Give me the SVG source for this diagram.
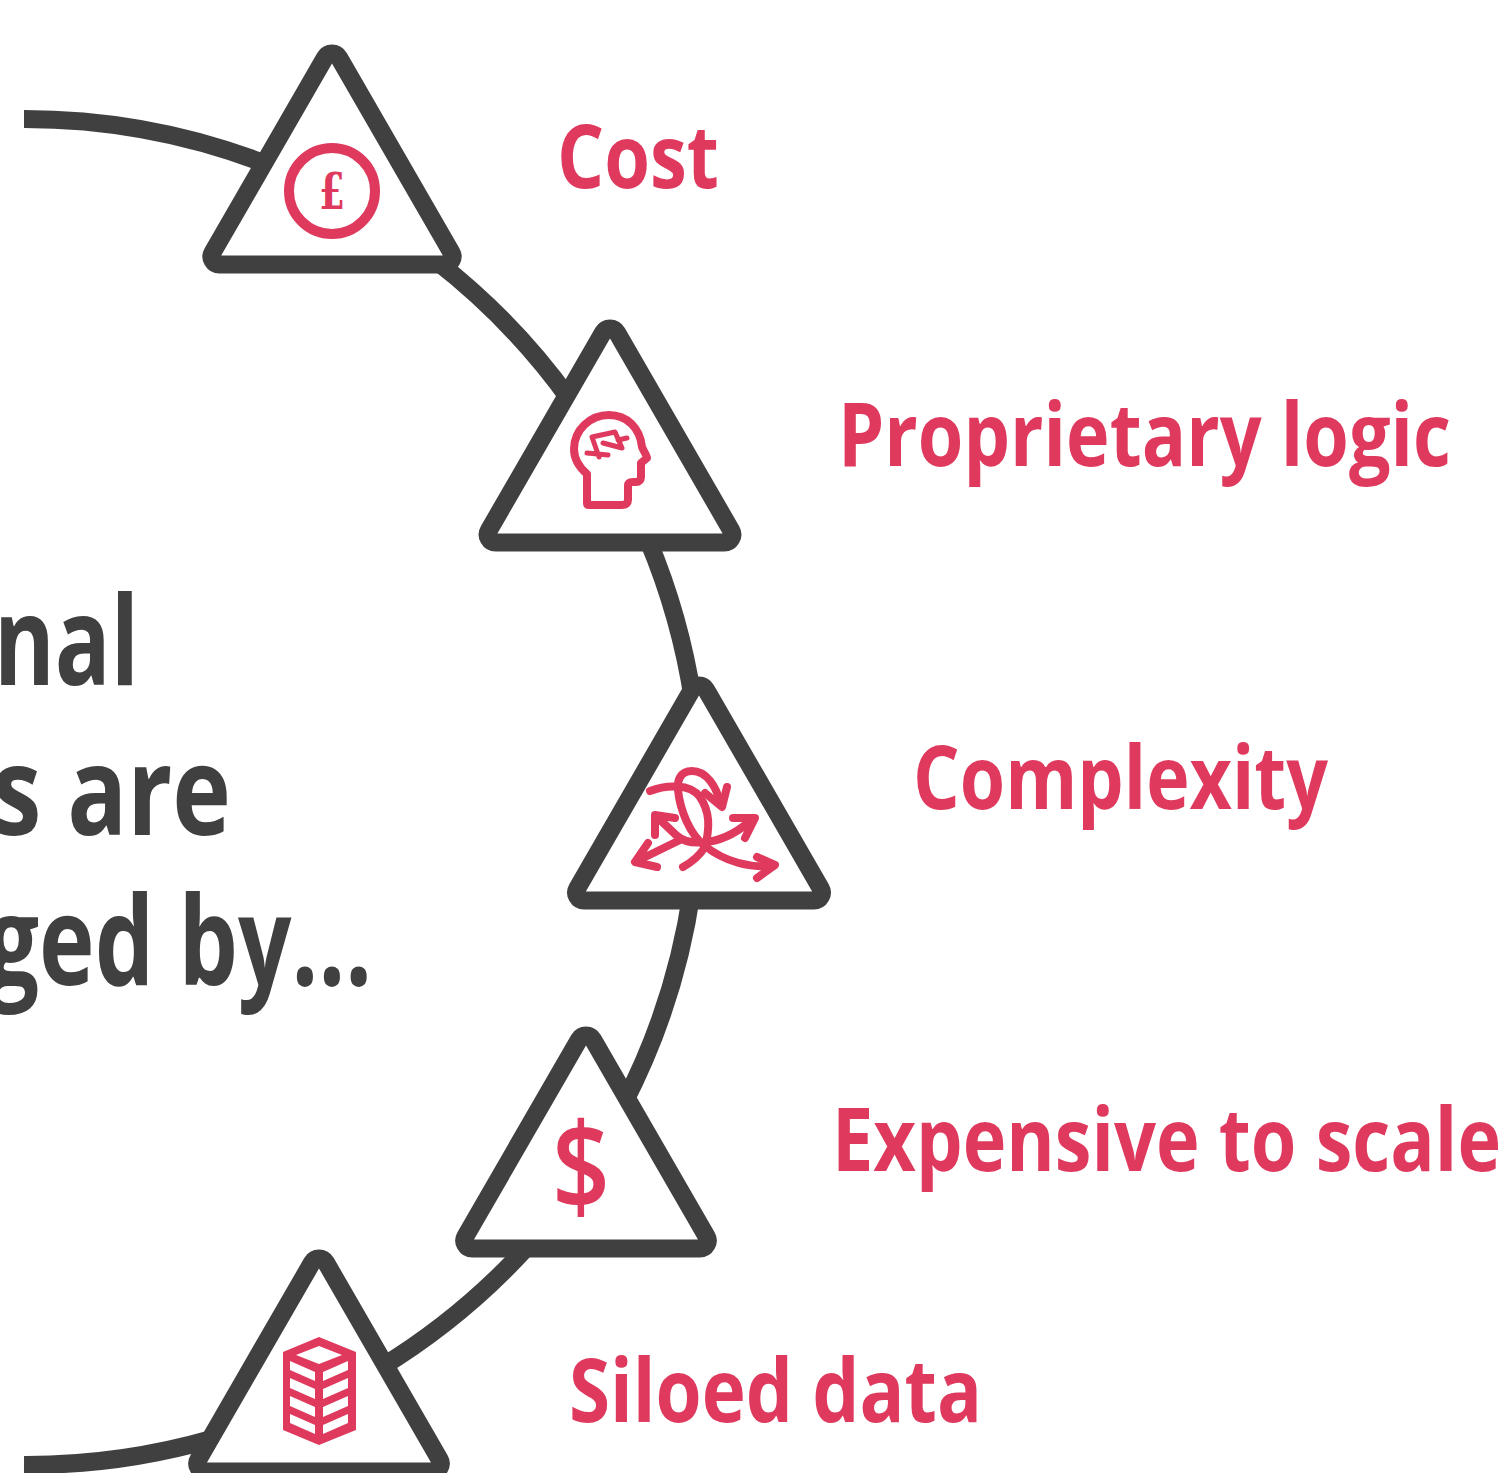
<svg xmlns="http://www.w3.org/2000/svg" width="1500" height="1473" viewBox="0 0 1500 1473">
<style>
.tri{fill:#fff;stroke:#404040;stroke-width:18;stroke-linejoin:round}
.arc{fill:none;stroke:#404040;stroke-width:18}
.lab{font-family:"Open Sans","Noto Sans",sans-serif;font-weight:700;font-size:88px;fill:#df3a5e}
.big{font-family:"Open Sans","Noto Sans",sans-serif;font-weight:700;font-size:124px;fill:#404040}
.ic{fill:none;stroke:#df3a5e;stroke-width:8;stroke-linecap:round;stroke-linejoin:round}
</style>
<rect width="1500" height="1473" fill="#fff"/>
<g id="connectors">
<path class="arc" d="M24 119A673 673 0 0 1 270 165.500"/>
<path class="arc" d="M435 260A673 673 0 0 1 570 400"/>
<path class="arc" d="M648 540A673 673 0 0 1 693 700"/>
<path class="arc" d="M692 890A673 673 0 0 1 623 1105"/>
<path class="arc" d="M527 1247A673 673 0 0 1 380 1368"/>
<path class="arc" d="M212 1439A673 673 0 0 1 24 1465"/>
</g>
<g id="heading">
<text class="big" x="-6" y="685" textLength="145" lengthAdjust="spacingAndGlyphs">nal</text>
<text class="big" x="-8" y="835" textLength="239" lengthAdjust="spacingAndGlyphs">s are</text>
<text class="big" x="-14" y="985" textLength="386" lengthAdjust="spacingAndGlyphs">ged by...</text>
</g>
<g id="node-cost">
<path class="tri" d="M325.050 57.540A8 8 0 0 1 338.950 57.540L451.450 252.460A8 8 0 0 1 444.500 264.500H219.500A8 8 0 0 1 212.550 252.460Z"/>
<circle cx="332" cy="191" r="43" fill="none" stroke="#df3a5e" stroke-width="10"/>
<text x="319" y="209" textLength="26" lengthAdjust="spacingAndGlyphs" font-family="'DejaVu Serif',serif" font-weight="700" font-size="50" fill="#df3a5e">£</text>
<text class="lab" x="557" y="187.500" textLength="162" lengthAdjust="spacingAndGlyphs">Cost</text>
</g>
<g id="node-proprietary-logic">
<path class="tri" d="M603.050 332.540A8 8 0 0 1 616.950 332.540L731.250 530.460A8 8 0 0 1 724.300 542.500H495.700A8 8 0 0 1 488.750 530.460Z"/>
<path class="ic" d="M589 505H622C626 505 628 503 628 500V486C628 483 630 482 633 482H636C639 482 641 480 641 477V463L647 458C647 456 644 452 642 447C640 428 627 415 609 415C590 415 574 430 574 449C574 460 580 468 587 474V503C587 505 588 505 589 505Z"/>
<path class="ic" style="stroke-width:5" d="M599 457L592 437L615 432L622 448L603 443M587 453L608 455M618 440L627 438"/>
<text class="lab" x="838" y="465.500" textLength="613" lengthAdjust="spacingAndGlyphs">Proprietary logic</text>
</g>
<g id="node-complexity">
<path class="tri" d="M692.050 689.540A8 8 0 0 1 705.950 689.540L820.800 888.460A8 8 0 0 1 813.850 900.500H584.150A8 8 0 0 1 577.200 888.460Z"/>
<path class="ic" d="M650 791C665 785 690 783 700 797C710 812 710 827 705 847C700 855 692 862 683 867"/>
<path class="ic" d="M721 805C716 785 706 771 692 771C680 771 677 781 678 790C680 810 690 835 705 846C725 862 750 868 773 866"/>
<path class="ic" d="M705 793L722 807L727 787M757 857L775 865L757 878"/>
<path class="ic" d="M656 816L676 835C690 848 725 845 752 819M655 835L655 815L675 818M733 818L755 818L745 838"/>
<path class="ic" d="M635 862L680 840M648 843L635 862L657 867"/>
<text class="lab" x="913" y="808.500" textLength="415" lengthAdjust="spacingAndGlyphs">Complexity</text>
</g>
<g id="node-expensive-to-scale">
<path class="tri" d="M579.050 1039.540A8 8 0 0 1 592.950 1039.540L706.650 1236.460A8 8 0 0 1 699.700 1248.500H472.300A8 8 0 0 1 465.350 1236.460Z"/>
<text x="552" y="1210" textLength="58" lengthAdjust="spacingAndGlyphs" font-family="'Open Sans',sans-serif" font-weight="600" font-size="122" fill="#df3a5e">$</text>
<text class="lab" x="832" y="1171" textLength="669" lengthAdjust="spacingAndGlyphs">Expensive to scale</text>
</g>
<g id="node-siloed-data">
<path class="tri" d="M312.050 1262.540A8 8 0 0 1 325.950 1262.540L439.650 1459.460A8 8 0 0 1 432.700 1471.500H205.300A8 8 0 0 1 198.350 1459.460Z"/>
<path d="M319 1337L356 1352V1430L319 1445L283 1430V1352ZM319 1346L296 1355L319 1364L342 1355ZM290 1361V1370L315 1381V1372ZM323 1372V1381L348 1370V1361ZM290 1378V1388L315 1399V1389ZM323 1389V1399L348 1388V1378ZM290 1396V1406L315 1417V1407ZM323 1407V1417L348 1406V1396ZM290 1414V1423L315 1434V1425ZM323 1425V1434L348 1423V1414Z" fill="#df3a5e" fill-rule="evenodd"/>
<text class="lab" x="569" y="1421.500" textLength="413" lengthAdjust="spacingAndGlyphs">Siloed data</text>
</g>
</svg>
